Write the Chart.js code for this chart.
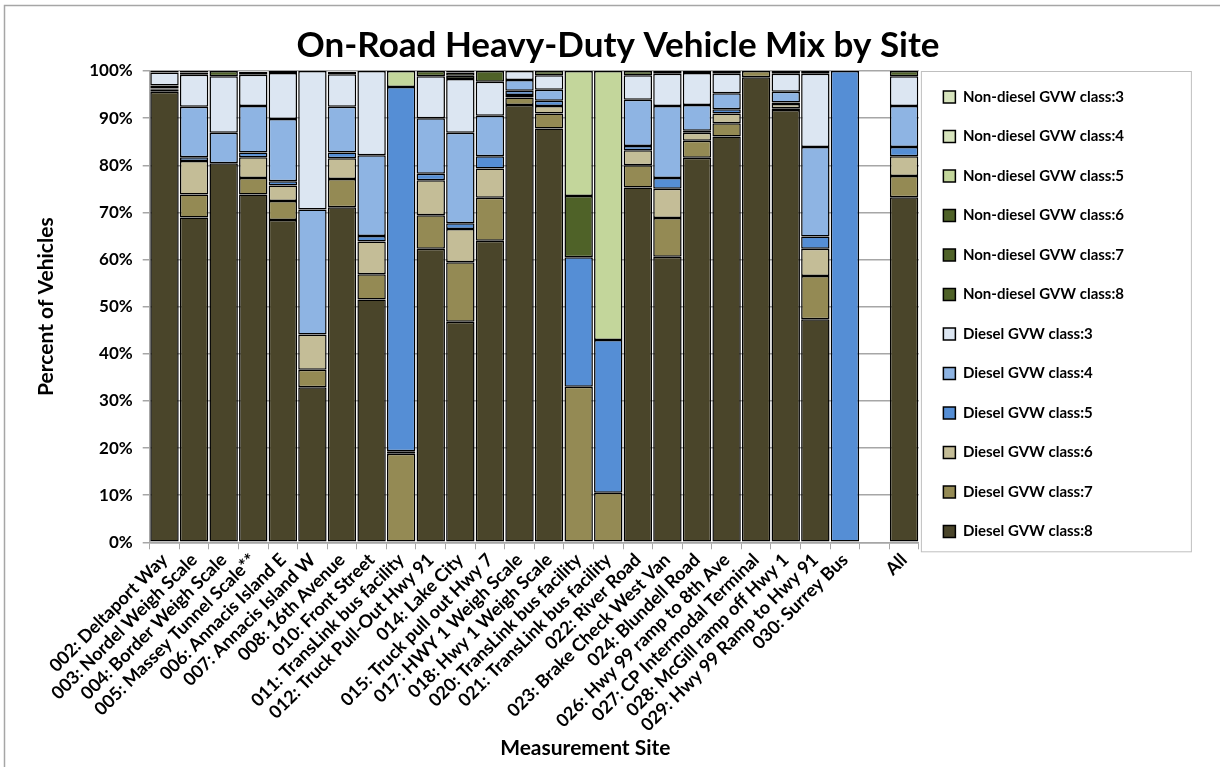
<!DOCTYPE html>
<html>
<head>
<meta charset="utf-8">
<title>On-Road Heavy-Duty Vehicle Mix by Site</title>
<script src="https://cdn.jsdelivr.net/npm/chart.js@4"></script>
<style>
    html, body { margin: 0; padding: 0; background: #FFFFFF; }
    .chart-container { position: relative; width: 1220px; height: 767px; }
</style>
</head>
<body>
<div class="chart-container">
    <canvas id="mixChart"></canvas>
</div>
<script>
// Measurement sites (one blank slot before "All")
const sites = [
    '002: Deltaport Way', '003: Nordel Weigh Scale', '004: Border Weigh Scale',
    '005: Massey Tunnel Scale**', '006: Annacis Island E', '007: Annacis Island W',
    '008: 16th Avenue', '010: Front Street', '011: TransLink bus facility',
    '012: Truck Pull-Out Hwy 91', '014: Lake City', '015: Truck pull out Hwy 7',
    '017: HWY 1 Weigh Scale', '018: Hwy 1 Weigh Scale', '020: TransLink bus facility',
    '021: TransLink bus facility', '022: River Road', '023: Brake Check West Van',
    '024: Blundell Road', '026: Hwy 99 ramp to 8th Ave', '027: CP Intermodal Terminal',
    '028: McGill ramp off Hwy 1', '029: Hwy 99 Ramp to Hwy 91', '030: Surrey Bus',
    '', 'All'
];

// Percent of vehicles per class
const diesel8 = [95.6, 68.9, 80.4, 73.8, 68.4, 32.9, 71.1, 51.5, 0, 62.3, 46.8, 64.0, 92.8, 87.8, 0, 0, 75.3, 60.6, 81.6, 86.1, 98.7, 91.7, 47.3, 0, null, 73.2];
const diesel7 = [0.4, 4.9, 0, 3.5, 4.0, 3.7, 6.0, 5.4, 18.8, 7.1, 12.6, 9.1, 1.6, 3.2, 33.0, 10.5, 4.7, 8.2, 3.6, 2.8, 1.3, 0.4, 9.2, 0, null, 4.5];
const diesel6 = [0.3, 7.1, 0, 4.4, 3.3, 7.5, 4.4, 6.9, 0.5, 7.4, 7.1, 6.2, 0.5, 1.6, 0, 0, 3.2, 6.2, 1.7, 2.1, 0, 0.9, 5.8, 0, null, 4.2];
const diesel5 = [0.3, 0.8, 0, 1.0, 0.9, 0, 1.2, 1.2, 77.3, 1.4, 1.2, 2.6, 0.9, 1.1, 27.5, 32.4, 0.9, 2.3, 0.4, 0.9, 0, 0.3, 2.6, 100, null, 2.0];
const diesel4 = [0.3, 10.7, 6.5, 9.9, 13.2, 26.5, 9.7, 17.1, 0, 11.8, 19.2, 8.6, 2.3, 2.3, 0, 0, 9.8, 15.3, 5.5, 3.4, 0, 2.3, 19.0, 0, null, 8.7];
const diesel3 = [2.8, 6.8, 12.0, 6.6, 9.8, 29.4, 6.9, 17.9, 0, 8.9, 11.4, 7.2, 1.9, 3.1, 0, 0, 5.2, 6.8, 6.8, 4.1, 0, 3.8, 15.5, 0, null, 6.3];
const nonDiesel8 = [0.3, 0.5, 1.1, 0, 0.4, 0, 0.5, 0, 0, 1.1, 0.7, 2.3, 0, 0.9, 0, 0, 0.9, 0, 0.4, 0.6, 0, 0, 0, 0, null, 1.1];
const nonDiesel7 = [0, 0, 0, 0, 0, 0, 0, 0, 0, 0, 0.7, 0, 0, 0, 0, 0, 0, 0, 0, 0, 0, 0, 0, 0, null, 0];
const nonDiesel6 = [0, 0, 0, 0, 0, 0, 0, 0, 0, 0, 0, 0, 0, 0, 13.0, 0, 0, 0, 0, 0, 0, 0, 0, 0, null, 0];
const nonDiesel5 = [0, 0, 0, 0.6, 0, 0, 0, 0, 3.4, 0, 0, 0, 0, 0, 26.5, 57.1, 0, 0.6, 0, 0, 0, 0.6, 0, 0, null, 0];
const nonDiesel4 = [0, 0, 0, 0, 0, 0, 0, 0, 0, 0, 0, 0, 0, 0, 0, 0, 0, 0, 0, 0, 0, 0, 0, 0, null, 0];
const nonDiesel3 = [0, 0.3, 0, 0, 0, 0, 0, 0, 0, 0, 0.3, 0, 0, 0, 0, 0, 0, 0, 0, 0, 0, 0, 0.6, 0, null, 0];

// Y axis ticks
const yTicks = [0, 10, 20, 30, 40, 50, 60, 70, 80, 90, 100];

const FONT = 'Lato, "Open Sans", sans-serif';
const NBSP = '\u00A0';

// Series (bottom of the stack first)
const seriesList = [
    { label: 'Diesel GVW class:8', data: diesel8, color: '#4A452A' },
    { label: 'Diesel GVW class:7', data: diesel7, color: '#948A54' },
    { label: 'Diesel GVW class:6', data: diesel6, color: '#C4BD97' },
    { label: 'Diesel GVW class:5', data: diesel5, color: '#558ED5' },
    { label: 'Diesel GVW class:4', data: diesel4, color: '#8EB4E3' },
    { label: 'Diesel GVW class:3', data: diesel3, color: '#DCE6F2' },
    { label: 'Non-diesel GVW class:8', data: nonDiesel8, color: '#4F6228' },
    { label: 'Non-diesel GVW class:7', data: nonDiesel7, color: '#4F6228' },
    { label: 'Non-diesel GVW class:6', data: nonDiesel6, color: '#4F6228' },
    { label: 'Non-diesel GVW class:5', data: nonDiesel5, color: '#C3D69B' },
    { label: 'Non-diesel GVW class:4', data: nonDiesel4, color: '#D7E4BD' },
    { label: 'Non-diesel GVW class:3', data: nonDiesel3, color: '#D7E4BD' }
];

// Outer frame and legend frame
const framePlugin = {
    id: 'frames',
    beforeDraw(chart) {
        const ctx = chart.ctx;
        const area = chart.chartArea;
        ctx.save();
        ctx.strokeStyle = '#A6A6A6';
        ctx.lineWidth = 1.5;
        ctx.strokeRect(4.5, 5.5, 1240, 800); // chart border (right/bottom off-canvas)
        ctx.strokeStyle = '#BFBFBF';
        ctx.lineWidth = 1;
        ctx.strokeRect(area.right + 2.5, area.top + 0.5, 270, area.bottom - area.top + 9); // legend box
        ctx.restore();
    }
};

window.onload = function() {
    const ctx = document.getElementById('mixChart').getContext('2d');

    const datasets = seriesList.map(s => ({
        label: s.label,
        data: s.data,
        backgroundColor: s.color,
        borderColor: '#000000',
        borderWidth: 1.5,
        borderSkipped: false,
        barPercentage: 0.96,
        categoryPercentage: 1.0
    }));

    new Chart(ctx, {
        type: 'bar',
        data: { labels: sites, datasets: datasets },
        options: {
            responsive: true,
            maintainAspectRatio: false,
            animation: false,
            layout: { padding: { left: 34, right: 86, top: 0, bottom: 6 } },
            plugins: {
                title: {
                    display: true,
                    text: NBSP.repeat(8) + 'On-Road Heavy-Duty Vehicle Mix by Site',
                    color: '#000000',
                    font: { family: FONT, size: 35, weight: 'bold' },
                    padding: { top: 25, bottom: 4 }
                },
                legend: {
                    display: true,
                    position: 'right',
                    align: 'start',
                    reverse: true, // Non-diesel class:3 at the top
                    title: {
                        display: true,
                        text: ' ',
                        font: { family: FONT, size: 10 },
                        padding: { top: 53, bottom: 0 }
                    },
                    labels: {
                        color: '#000000',
                        font: { family: FONT, size: 15, weight: 'bold' },
                        boxWidth: 12,
                        boxHeight: 12,
                        padding: 24.5,
                        generateLabels(chart) {
                            const items = Chart.defaults.plugins.legend.labels.generateLabels(chart);
                            items.forEach(it => { it.strokeStyle = '#000000'; it.lineWidth = 1.5; });
                            return items;
                        }
                    }
                },
                tooltip: { enabled: false }
            },
            scales: {
                x: {
                    stacked: true,
                    grid: {
                        display: true,
                        offset: true,
                        drawOnChartArea: false,
                        tickLength: 7,
                        color: '#A6A6A6'
                    },
                    border: { color: '#A6A6A6', width: 1.5 },
                    ticks: {
                        autoSkip: false,
                        maxRotation: 45,
                        minRotation: 45,
                        padding: 0,
                        color: '#000000',
                        font: { family: FONT, size: 18, weight: 'bold' }
                    },
                    title: {
                        display: true,
                        text: NBSP.repeat(20) + 'Measurement Site',
                        color: '#000000',
                        font: { family: FONT, size: 21, weight: 'bold' },
                        padding: { top: 0, bottom: 0 }
                    }
                },
                y: {
                    stacked: true,
                    min: 0,
                    max: 100,
                    afterBuildTicks(axis) {
                        axis.ticks = yTicks.map(v => ({ value: v }));
                    },
                    grid: {
                        color: '#A6A6A6',
                        lineWidth: 1.5,
                        tickLength: 7
                    },
                    border: { color: '#A6A6A6', width: 1.5 },
                    ticks: {
                        padding: 10,
                        color: '#000000',
                        font: { family: FONT, size: 17, weight: 'bold' },
                        callback: v => v + '%'
                    },
                    title: {
                        display: true,
                        text: 'Percent of Vehicles',
                        color: '#000000',
                        font: { family: FONT, size: 21, weight: 'bold' },
                        padding: { top: 0, bottom: 20 }
                    }
                }
            }
        },
        plugins: [framePlugin]
    });
};
</script>
</body>
</html>
